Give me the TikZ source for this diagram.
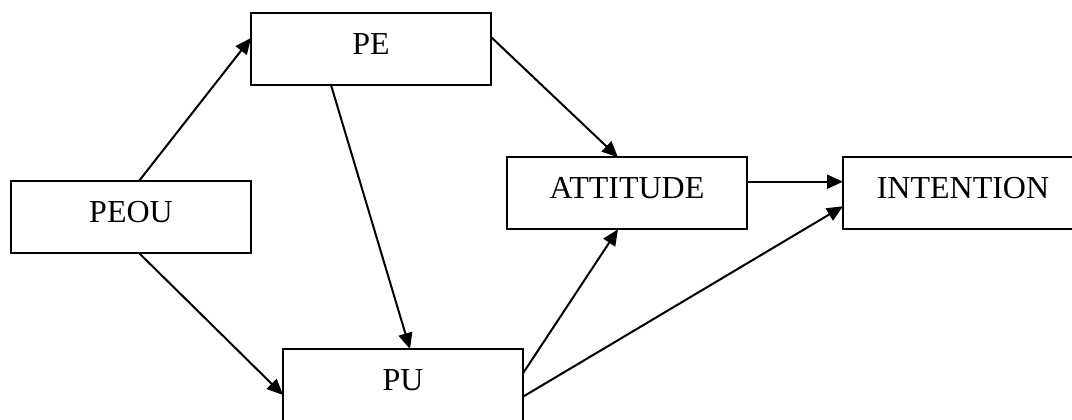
\documentclass[tikz,border=0pt]{standalone}
\usepackage{fontspec}
\setmainfont{Liberation Serif}
\usetikzlibrary{arrows.meta,calc}
\begin{document}
\begin{tikzpicture}[x=1pt,y=-1pt,
  box/.style={draw,line width=2pt,minimum width=240pt,minimum height=72pt,
    inner sep=0pt,outer sep=0pt,text depth=10pt,
    font=\fontsize{32}{38}\selectfont},
  link/.style={line width=2pt,-{Triangle[length=16pt,width=14pt]}}]
\clip (0,0) rectangle (1072,420);
\useasboundingbox (0,0) rectangle (1072,420);
\node[box] (PEOU) at (131,217) {PEOU};
\node[box] (PE) at (371,49) {PE};
\node[box] (ATT) at (627,193.3) {ATTITUDE};
\node[box] (INT) at (963,193.3) {INTENTION};
\node[box] (PU) at (403,385) {PU};
\draw[link] ($(PEOU.north west)+(128,0)$) -- ($(PE.north west)+(0,25)$);
\draw[link] ($(PEOU.south west)+(128,0)$) -- ($(PU.north west)+(0,46)$);
\draw[link] ($(PE.south west)+(80,0)$) -- ($(PU.north west)+(127,0)$);
\draw[link] ($(PE.north east)+(0,24)$) -- ($(ATT.north west)+(111,0)$);
\draw[link] ($(ATT.north east)+(0,24.4)$) -- ($(INT.north west)+(0,24.4)$);
\draw[link] ($(PU.north east)+(0,24.3)$) -- ($(ATT.south west)+(111,0)$);
\draw[link] ($(PU.north east)+(0,47.7)$) -- ($(INT.north west)+(0,49)$);
\end{tikzpicture}
\end{document}
